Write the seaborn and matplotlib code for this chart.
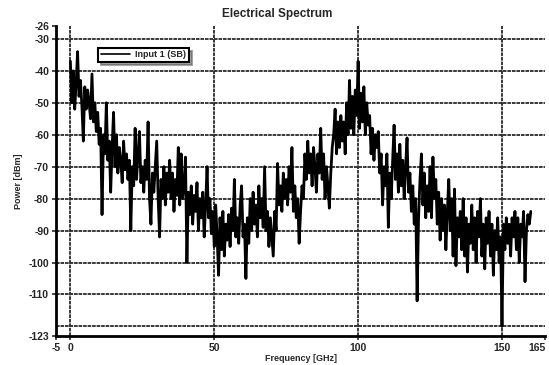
import numpy as np
import pandas as pd
import matplotlib
matplotlib.use("Agg")
import matplotlib.pyplot as plt
import seaborn as sns

# ---- data (0.5 GHz steps) ----
power_dbm = [
    -37, -50, -40, -52, -44, -34, -48, -43, -51, -62,
    -45, -52, -46, -50, -55, -41, -56, -50, -59, -53,
    -63, -58, -85, -60, -66, -50, -68, -62, -78, -64,
    -53, -70, -60, -72, -64, -68, -75, -62, -71, -66,
    -74, -68, -90, -70, -76, -58, -74, -66, -59, -75,
    -70, -78, -68, -74, -56, -80, -88, -72, -78, -70,
    -62, -80, -92, -74, -80, -70, -82, -72, -78, -68,
    -80, -72, -84, -74, -79, -64, -82, -66, -80, -76,
    -67, -100, -78, -85, -76, -88, -79, -84, -75, -90,
    -80, -86, -78, -92, -82, -70, -86, -80, -91, -84,
    -95, -82, -92, -104, -86, -96, -84, -98, -88, -93,
    -85, -95, -83, -90, -74, -92, -86, -94, -82, -76,
    -92, -88, -105, -86, -94, -80, -90, -78, -88, -82,
    -92, -76, -86, -80, -89, -70, -90, -84, -95, -86,
    -92, -98, -84, -90, -69, -82, -76, -84, -72, -80,
    -74, -82, -70, -78, -64, -84, -76, -86, -80, -94,
    -84, -76, -80, -66, -74, -62, -72, -66, -76, -64,
    -70, -78, -66, -72, -58, -74, -66, -80, -70, -76,
    -83, -72, -64, -60, -52, -66, -56, -64, -54, -62,
    -56, -66, -50, -60, -43, -58, -48, -60, -46, -54,
    -37, -58, -47, -56, -45, -60, -50, -57, -54, -66,
    -58, -68, -60, -64, -59, -72, -66, -82, -70, -76,
    -66, -89, -72, -80, -68, -57, -74, -66, -78, -63,
    -76, -68, -80, -70, -61, -78, -72, -84, -76, -88,
    -80, -112, -86, -74, -66, -82, -72, -86, -76, -84,
    -70, -86, -67, -80, -74, -88, -78, -93, -80, -90,
    -82, -96, -84, -74, -90, -80, -98, -77, -101, -86,
    -92, -84, -96, -80, -98, -86, -103, -88, -94, -82,
    -96, -86, -100, -84, -92, -80, -98, -88, -102, -86,
    -94, -84, -98, -88, -104, -90, -96, -86, -100, -92,
    -120, -88, -96, -86, -94, -88, -98, -86, -92, -84,
    -96, -86, -100, -88, -92, -84, -106, -90, -85, -88,
    -84,
]
freq_ghz = np.arange(len(power_dbm)) * 0.5
series_label = "Input 1 (SB)"
x_ticks = [-5, 0, 50, 100, 150, 165]
y_ticks = [-123, -110, -100, -90, -80, -70, -60, -50, -40, -30, -26]
y_grid = [-120, -110, -100, -90, -80, -70, -60, -50, -40, -30]
x_grid = [0, 50, 100, 150]

df = pd.DataFrame({"Frequency": freq_ghz, "Power": power_dbm})

sns.set_style("white")
plt.rcParams["font.family"] = ["Liberation Sans", "DejaVu Sans"]
plt.rcParams["font.weight"] = "bold"

fig = plt.figure(figsize=(5.49, 3.65), dpi=100)
ax = fig.add_axes([0.102, 0.0795, 0.891, 0.849])

grid_kw = dict(color="#2a2a2a", lw=1.3, ls=(0, (2, 0.5)), zorder=1)
for yv in y_grid:
    ax.axhline(yv, **grid_kw)
for xv in x_grid:
    ax.axvline(xv, **grid_kw)

sns.lineplot(data=df, x="Frequency", y="Power", ax=ax, color="black",
             lw=2.0, estimator=None, label=series_label, zorder=3)

ax.set_xlim(-5, 165)
ax.set_ylim(-123, -26)
ax.set_xticks(x_ticks)
ax.set_yticks(y_ticks)
ax.set_xticklabels([str(v) for v in x_ticks], fontsize=7.5, fontweight="bold")
ax.set_yticklabels([str(v) for v in y_ticks], fontsize=7.5, fontweight="bold")
ax.get_xticklabels()[-1].set_horizontalalignment("right")
ax.get_xticklabels()[-1].set_x(166.5)
ax.tick_params(axis="both", length=3, width=1.2, color="#2a2a2a", pad=2,
               direction="out", bottom=True, left=True)

for s in ["top", "right"]:
    ax.spines[s].set_visible(False)
for s in ["left", "bottom"]:
    ax.spines[s].set_color("black")
    ax.spines[s].set_linewidth(2)

ax.set_xlabel("Frequency [GHz]", fontsize=6.5, fontweight="bold", labelpad=1)
ax.set_ylabel("Power [dBm]", fontsize=6.5, fontweight="bold", labelpad=4)
fig.text(0.505, 0.962, "Electrical Spectrum", ha="center", va="center",
         fontsize=8.5, fontweight="bold")

leg = ax.legend(loc="upper left", bbox_to_anchor=(0.086, 0.93), borderaxespad=0,
                fancybox=False, shadow=True, frameon=True, fontsize=6.5,
                handlelength=3.2, borderpad=0.3, handletextpad=0.6)
leg.get_frame().set_edgecolor("black")
leg.get_frame().set_linewidth(1.5)
for ln in leg.get_lines():
    ln.set_linewidth(1.2)
for t in leg.get_texts():
    t.set_fontweight("bold")

fig.savefig("out.png", dpi=100)
